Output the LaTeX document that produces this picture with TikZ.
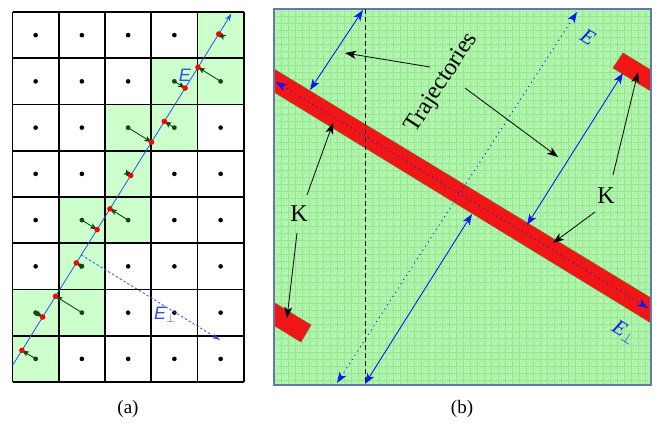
\documentclass[tikz,border=0pt]{standalone}
\usepackage{fontspec}
\setmainfont{Liberation Serif}
\setsansfont{Liberation Sans}
\usetikzlibrary{arrows.meta,calc}
\definecolor{cellgreen}{RGB}{204,255,204}
\definecolor{darkgr}{RGB}{20,70,20}
\definecolor{lineblue}{RGB}{30,90,220}
\definecolor{lblblue}{RGB}{50,80,230}
\definecolor{bblue}{RGB}{15,25,240}
\definecolor{bgreen}{RGB}{172,244,168}
\definecolor{gridgr}{RGB}{150,230,148}
\definecolor{diaggr}{RGB}{200,250,195}
\definecolor{bandred}{RGB}{240,22,22}
\definecolor{bandedge}{RGB}{150,90,40}
\definecolor{frameblue}{RGB}{100,120,175}
\tikzset{
  garrow/.style={darkgr, line width=0.9pt, -{Stealth[length=7pt,width=5.5pt,inset=1.5pt]}},
  barrow/.style={bblue, line width=0.9pt, {Stealth[length=11pt,width=8pt,inset=3pt]}-{Stealth[length=11pt,width=8pt,inset=3pt]}},
  bdots/.style={bblue, line width=1pt, dash pattern=on 1pt off 4pt, {Stealth[length=11pt,width=8pt,inset=3pt]}-{Stealth[length=11pt,width=8pt,inset=3pt]}},
  karrow/.style={black, line width=0.8pt, -{Stealth[length=11pt,width=8pt,inset=3pt]}},
  bandpiece/.style={fill=bandred, draw=bandedge, line width=0.6pt},
  biglbl/.style={font=\fontsize{24}{24}\selectfont},
  caplbl/.style={font=\fontsize{19}{19}\selectfont}
}
\begin{document}
\begin{tikzpicture}[x=1pt,y=-1pt]
\useasboundingbox (0,0) rectangle (659,428);
% ---------------- panel (a)
\def\s{46.25}
\foreach \r/\c in {0/4,1/3,1/4,2/2,2/3,3/2,4/1,4/2,5/1,6/0,6/1,7/0}
  \fill[cellgreen] ({12.5+\c*\s},{12+\r*\s}) rectangle +(\s,\s);
\foreach \i in {0,...,5}
  \draw[line width=1.7pt] ({12.5+\i*\s},12) -- ({12.5+\i*\s},{12+8*\s});
\foreach \j in {0,...,8}
  \draw[line width=1.7pt] (12.5,{12+\j*\s}) -- ({12.5+5*\s},{12+\j*\s});
% black dots at white cells
\foreach \r/\c in {0/0,0/1,0/2,0/3,1/0,1/1,1/2,2/0,2/1,2/4,3/0,3/1,3/3,3/4,4/0,4/3,4/4,5/0,5/2,5/3,5/4,6/2,6/3,6/4,7/1,7/2,7/3,7/4}
  \fill (({12.5+(\c+0.5)*\s},{12+(\r+0.5)*\s}) circle (2.3pt);
\coordinate (A) at (12.5,365.5);
\coordinate (B) at (231.5,13.5);
\foreach \r/\c in {0/4,1/3,1/4,2/2,2/3,3/2,4/1,4/2,5/1,6/0,6/1,7/0}{
  \coordinate (c\r\c) at ({12.5+(\c+0.5)*\s},{12+(\r+0.5)*\s});
  \coordinate (p\r\c) at ($(A)!(c\r\c)!(B)$);
  \draw[garrow] (c\r\c) -- (p\r\c);
  \fill[darkgr] (c\r\c) circle (2.4pt);
}
\draw[lineblue, line width=0.8pt, -{Stealth[length=8pt,width=5pt]}] (A) -- (B);
\foreach \r/\c in {0/4,1/3,1/4,2/2,2/3,3/2,4/1,4/2,5/1,6/0,6/1,7/0}
  \fill[red] (p\r\c) circle (2.8pt);
\coordinate (Pe) at ($(A)!0.314!(B)$);
\coordinate (Qe) at (220,340);
\draw[lblblue, line width=0.8pt, dash pattern=on 2.5pt off 2pt, -{Stealth[length=8pt,width=5pt]}] (Pe) -- (Qe);
\node[text=lblblue, font=\sffamily\itshape\fontsize{18}{18}\selectfont] (Ea) at (185,75) {E};
\node[text=lblblue, font=\sffamily\itshape\fontsize{18}{18}\selectfont] (Epa) at (165,315) {E$_\perp$};
\node[caplbl] (capa) at (128,409) {(a)};
% ---------------- panel (b)
\begin{scope}
\clip (274,9) rectangle (651,385);
\fill[bgreen] (274,9) rectangle (651,385);
\foreach \k in {-380,-373,...,380}
  \draw[diaggr, line width=0.5pt] ({274+\k},385) -- ({650+\k},9);
\foreach \x in {274,281,...,651}
  \draw[gridgr, line width=0.5pt] (\x,9) -- (\x,385);
\foreach \y in {9,16,...,385}
  \draw[gridgr, line width=0.5pt] (274,\y) -- (651,\y);
\draw[bandpiece] (260,60.5) -- (665,306.5) -- (665,331.5) -- (260,83.5) -- cycle;
\draw[bandpiece] (623,53) -- (670,81.7) -- (670,102.8) -- (613,68) -- cycle;
\draw[bandpiece] (311,325) -- (260,293.9) -- (260,316.9) -- (301,342) -- cycle;
\end{scope}
\draw[frameblue, line width=1.2pt] (274,9) rectangle (651,385);
% dashed trajectory
\coordinate (Dt) at (365,9);
\coordinate (Db) at (365,385);
\draw[black, line width=0.9pt, dash pattern=on 5pt off 3pt] (Dt) -- (Db);
% dotted axes
\coordinate (Ppl) at (276,82);
\coordinate (Ppr) at (648,308);
\coordinate (Eb) at (337,383);
\coordinate (Et) at (577,12);
\draw[bdots] (Ppl) -- (Ppr);
\draw[bdots] (Eb) -- (Et);
% blue trajectory arrows
\coordinate (T1a) at (363,10);  \coordinate (T1b) at (310,90);
\coordinate (T2a) at (623,73);  \coordinate (T2b) at (527,225);
\coordinate (T3a) at (472,214); \coordinate (T3b) at (365,384);
\draw[barrow] (T1a) -- (T1b);
\draw[barrow] (T2a) -- (T2b);
\draw[barrow] (T3a) -- (T3b);
% labels
\node[text=bblue, rotate=-32, font=\itshape\fontsize{21}{21}\selectfont] (Eb1) at (588,37) {E};
\node[text=bblue, rotate=-32, font=\itshape\fontsize{21}{21}\selectfont] (Epb) at (624,332) {E$_\perp$};
\node[biglbl, rotate=57] (traj) at (442,83) {Trajectories};
\node[biglbl] (K1) at (299,214) {K};
\node[biglbl] (K2) at (606,196) {K};
% black arrows
\coordinate (tr1) at (430,67);  \coordinate (tr1t) at (345,53);
\coordinate (tr2) at (465,88);  \coordinate (tr2t) at (558,157);
\draw[karrow] (tr1) -- (tr1t);
\draw[karrow] (tr2) -- (tr2t);
\coordinate (k1a) at (307,195); \coordinate (k1at) at (333,123);
\coordinate (k1b) at (297,233); \coordinate (k1bt) at (287,318);
\coordinate (k2a) at (613,175); \coordinate (k2at) at (638,72);
\coordinate (k2b) at (595,212); \coordinate (k2bt) at (553,243);
\draw[karrow] (k1a) -- (k1at);
\draw[karrow] (k1b) -- (k1bt);
\draw[karrow] (k2a) -- (k2at);
\draw[karrow] (k2b) -- (k2bt);
\node[caplbl] (capb) at (462,409) {(b)};
\end{tikzpicture}
\end{document}
